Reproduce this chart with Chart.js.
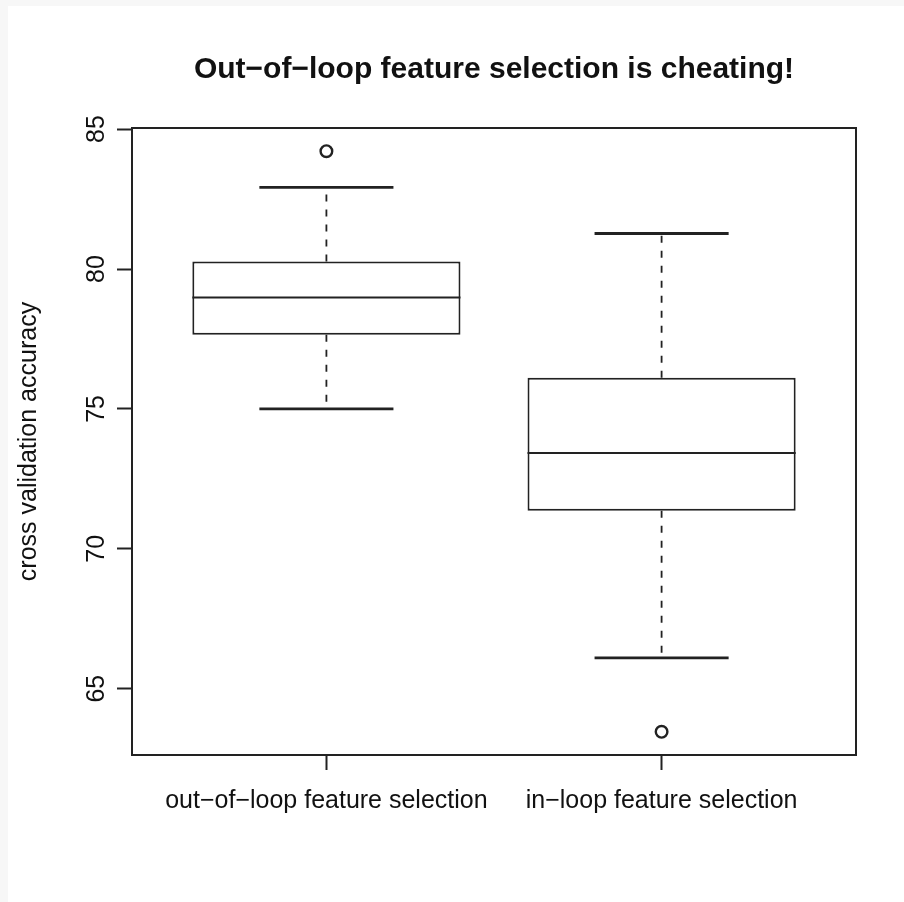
<!DOCTYPE html>
<html>
<head>
<meta charset="utf-8">
<script src="https://cdn.jsdelivr.net/npm/chart.js@4.4.1/dist/chart.umd.min.js"></script>
<style>
  html, body { margin: 0; padding: 0; background: #f7f7f7; }
  #wrap { position: absolute; left: 8px; top: 6px; width: 896px; height: 896px; background: #fff; }
</style>
</head>
<body>
<div id="wrap"><canvas id="chart" width="896" height="896"></canvas></div>
<script>
// Valores (estatísticas do boxplot)
const categories = ['out\u2212of\u2212loop feature selection', 'in\u2212loop feature selection'];
const whiskerLow = [75.0, 66.1];
const boxLow = [77.65, 71.36];
const medians = [78.98, 73.42];
const boxHigh = [80.27, 76.11];
const whiskerHigh = [82.92, 81.27];
const outliers = [[84.21], [63.46]];
const yTicks = [65, 70, 75, 80, 85];

const titleText = 'Out\u2212of\u2212loop feature selection is cheating!';
const yTitle = 'cross validation accuracy';

// Limites dos eixos como no R (intervalo dos dados + 4%)
const allValues = whiskerLow.concat(whiskerHigh, outliers.flat());
const lo = Math.min(...allValues), hi = Math.max(...allValues);
const yMin = lo - 0.04 * (hi - lo);
const yMax = hi + 0.04 * (hi - lo);
const xMin = 0.5 - 0.04 * categories.length;
const xMax = categories.length + 0.5 + 0.04 * categories.length;

const ink = '#222';
const fontFamily = '"Liberation Sans", Arial, Helvetica, sans-serif';

// Plugin: bigodes, medianas, moldura e título
const boxplotExtras = {
  id: 'boxplotExtras',
  afterDatasetsDraw(chart) {
    const { ctx, chartArea: a, scales: { x, y } } = chart;
    const seg = (x1, y1, x2, y2) => {
      ctx.beginPath(); ctx.moveTo(x1, y1); ctx.lineTo(x2, y2); ctx.stroke();
    };
    ctx.save();
    ctx.strokeStyle = ink;
    categories.forEach((c, i) => {
      const cx = x.getPixelForValue(i + 1);
      const boxHalf = x.getPixelForValue(i + 1.4) - cx;
      const stapleHalf = x.getPixelForValue(i + 1.2) - cx;

      // bigodes tracejados, a partir da caixa
      ctx.setLineDash([7, 8]);
      ctx.lineWidth = 1.8;
      seg(cx, y.getPixelForValue(boxHigh[i]), cx, y.getPixelForValue(whiskerHigh[i]));
      seg(cx, y.getPixelForValue(boxLow[i]), cx, y.getPixelForValue(whiskerLow[i]));

      // barras dos extremos
      ctx.setLineDash([]);
      ctx.lineWidth = 2.8;
      seg(cx - stapleHalf, y.getPixelForValue(whiskerHigh[i]), cx + stapleHalf, y.getPixelForValue(whiskerHigh[i]));
      seg(cx - stapleHalf, y.getPixelForValue(whiskerLow[i]), cx + stapleHalf, y.getPixelForValue(whiskerLow[i]));

      // mediana
      ctx.lineWidth = 2;
      seg(cx - boxHalf, y.getPixelForValue(medians[i]), cx + boxHalf, y.getPixelForValue(medians[i]));
    });

    // moldura
    ctx.lineWidth = 2;
    ctx.strokeRect(a.left, a.top, a.right - a.left, a.bottom - a.top);

    // título centrado na área do gráfico
    ctx.fillStyle = '#111';
    ctx.font = 'bold 30px ' + fontFamily;
    ctx.textAlign = 'center';
    ctx.textBaseline = 'alphabetic';
    ctx.fillText(titleText, (a.left + a.right) / 2, 72);
    ctx.restore();
  }
};

const ctx = document.getElementById('chart');
new Chart(ctx, {
  type: 'bar',
  data: {
    datasets: [
      {
        type: 'bar',
        data: categories.map((c, i) => ({ x: i + 1, y: [boxLow[i], boxHigh[i]] })),
        backgroundColor: '#fff',
        borderColor: ink,
        borderWidth: 2,
        borderSkipped: false,
        barPercentage: 0.8,
        categoryPercentage: 1
      },
      {
        type: 'scatter',
        data: outliers.flatMap((vals, i) => vals.map(v => ({ x: i + 1, y: v }))),
        pointRadius: 5.8,
        pointBorderWidth: 2.4,
        borderColor: ink,
        backgroundColor: 'rgba(0,0,0,0)',
        showLine: false
      }
    ]
  },
  options: {
    responsive: false,
    animation: false,
    layout: { padding: { top: 122, right: 48, left: 0, bottom: 0 } },
    plugins: {
      legend: { display: false },
      tooltip: { enabled: false },
      title: { display: false }
    },
    scales: {
      x: {
        type: 'linear',
        min: xMin,
        max: xMax,
        offset: false,
        afterBuildTicks: scale => { scale.ticks = categories.map((c, i) => ({ value: i + 1 })); },
        afterFit: scale => { scale.height = 147; },
        grid: {
          offset: false,
          drawOnChartArea: false,
          drawTicks: true,
          tickLength: 15,
          tickWidth: 2,
          tickColor: ink
        },
        border: { display: false },
        ticks: {
          autoSkip: false,
          maxRotation: 0,
          padding: 16,
          color: '#111',
          font: { family: fontFamily, size: 25 },
          callback: v => categories[v - 1]
        }
      },
      y: {
        type: 'linear',
        min: yMin,
        max: yMax,
        afterBuildTicks: scale => { scale.ticks = yTicks.map(v => ({ value: v })); },
        afterFit: scale => { scale.width = 124; },
        grid: {
          drawOnChartArea: false,
          drawTicks: true,
          tickLength: 15,
          tickWidth: 2,
          tickColor: ink
        },
        border: { display: false },
        ticks: {
          minRotation: 90,
          maxRotation: 90,
          crossAlign: 'center',
          padding: 6,
          color: '#111',
          font: { family: fontFamily, size: 25 }
        },
        title: {
          display: true,
          text: yTitle,
          color: '#111',
          padding: { top: 6, bottom: 0 },
          font: { family: fontFamily, size: 25 }
        }
      }
    }
  },
  plugins: [boxplotExtras]
});
</script>
</body>
</html>
